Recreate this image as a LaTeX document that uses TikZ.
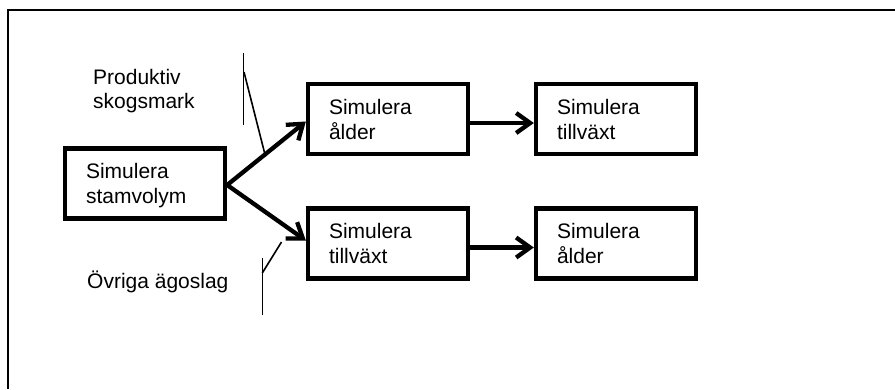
\documentclass[tikz,border=0pt]{standalone}
\usepackage{fontspec}
\setmainfont{Liberation Sans}
\usetikzlibrary{arrows.meta}
\newcommand\tstr{\rule{0pt}{20pt}}
\newcommand\bstr{\rule[-5pt]{0pt}{5pt}}
\begin{document}
\begin{tikzpicture}[x=1pt,y=-1pt,
  procbox/.style={draw, line width=4.3pt, minimum width=160pt, minimum height=70pt,
    text width=118pt, inner xsep=21pt, inner ysep=0pt, align=left,
    font=\fontsize{21}{25}\selectfont},
  flow/.style={line width=4.3pt, -{Straight Barb[length=14pt,width=20pt]}},
  lbl/.style={font=\fontsize{21}{25}\selectfont, inner sep=0pt, anchor=base west},
  tick/.style={line width=1.6pt}]
\useasboundingbox (0,0) rectangle (895,389);
\coordinate (fa) at (8,389);
\coordinate (fb) at (8,10);
\coordinate (fc) at (895,10);
\draw[line width=1.8pt] (fa) -- (fb) -- (fc);

\node[procbox] (stam) at (145,183.5) {\tstr Simulera\\stamvolym\bstr};
\node[procbox] (alder1) at (388,119) {\tstr Simulera\\ålder\bstr};
\node[procbox] (tillv1) at (616,119) {\tstr Simulera\\tillväxt\bstr};
\node[procbox] (tillv2) at (388,243.5) {\tstr Simulera\\tillväxt\bstr};
\node[procbox] (alder2) at (616,243.5) {\tstr Simulera\\ålder\bstr};

\draw[flow] ([yshift=-1.5pt]stam.east) -- ([yshift=-2.5pt]alder1.west);
\draw[flow] ([yshift=-1.5pt]stam.east) -- ([yshift=3pt]tillv2.west);
\draw[flow] ([yshift=-4pt]alder1.east) -- ([yshift=-4pt]tillv1.west);
\draw[flow] ([yshift=-4pt]tillv2.east) -- ([yshift=-4pt]alder2.west);

\coordinate (t1a) at (243.5,53);
\coordinate (t1b) at (243.5,125);
\coordinate (t1c) at (244,72);
\coordinate (t1d) at (265.5,156.5);
\draw[tick] (t1a) -- (t1b);
\draw[tick] (t1c) -- (t1d);
\coordinate (t2a) at (262.3,258);
\coordinate (t2b) at (262.3,315);
\coordinate (t2c) at (262.3,273);
\coordinate (t2d) at (281.5,242);
\draw[tick] (t2a) -- (t2b);
\draw[tick] (t2c) -- (t2d);

\node[lbl] (prod1) at (93,84) {Produktiv};
\node[lbl] (prod2) at (93,108) {skogsmark};
\node[lbl] (ovr) at (87,288) {Övriga ägoslag};
\end{tikzpicture}
\end{document}
